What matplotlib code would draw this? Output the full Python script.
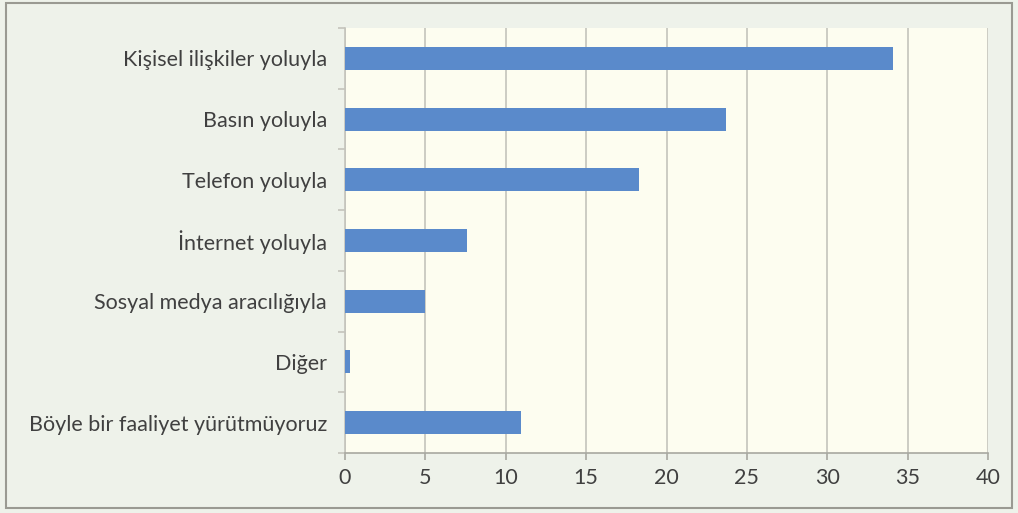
import matplotlib
matplotlib.use("Agg")
import matplotlib.pyplot as plt
from matplotlib.patches import Rectangle

categories = [
    "Kişisel ilişkiler yoluyla",
    "Basın yoluyla",
    "Telefon yoluyla",
    "İnternet yoluyla",
    "Sosyal medya aracılığıyla",
    "Diğer",
    "Böyle bir faaliyet yürütmüyoruz",
]
values = [34.1, 23.7, 18.3, 7.6, 5.0, 0.3, 10.95]
x_ticks = [0, 5, 10, 15, 20, 25, 30, 35, 40]

plt.rcParams["font.family"] = ["Lato", "DejaVu Sans"]

fig = plt.figure(figsize=(10.18, 5.13), dpi=100)
fig.patch.set_facecolor("#EEF2EA")
fig.patches.append(Rectangle((0.006, 0.01), 0.988, 0.984, transform=fig.transFigure,
                             fill=False, edgecolor="#9A9A92", linewidth=1.5))

W, H = 1018, 513
left, right, top, bottom = 345, 988, 28, 453
ax = fig.add_axes([left / W, 1 - bottom / H, (right - left) / W, (bottom - top) / H])
ax.set_facecolor("#FDFDF0")

n = len(categories)
ypos = list(range(n))[::-1]
ax.barh(ypos, values, height=0.38, color="#5A8ACB", zorder=3)

ax.set_xlim(0, 40)
ax.set_ylim(-0.5, n - 0.5)
ax.set_xticks(x_ticks)
ax.set_xticklabels([str(t) for t in x_ticks])
ax.set_yticks(ypos)
ax.set_yticklabels(categories)
ax.set_yticks([i - 0.5 for i in range(n + 1)], minor=True)

ax.grid(axis="x", color="#C4C4BC", linewidth=1.2, zorder=0)
for s in ["top", "right"]:
    ax.spines[s].set_visible(False)
ax.spines["left"].set_color("#C4C4BC")
ax.spines["bottom"].set_color("#A8A8A0")
ax.spines["left"].set_linewidth(1.2)
ax.spines["bottom"].set_linewidth(1.2)

ax.tick_params(axis="y", which="major", length=0, pad=13, labelsize=15.5, labelcolor="#404040")
ax.tick_params(axis="y", which="minor", length=5, color="#C4C4BC", width=1.2)
ax.tick_params(axis="x", length=5, color="#A8A8A0", width=1.2, pad=6,
               labelsize=15.5, labelcolor="#404040")

fig.savefig("out.png", dpi=100, facecolor=fig.get_facecolor())
